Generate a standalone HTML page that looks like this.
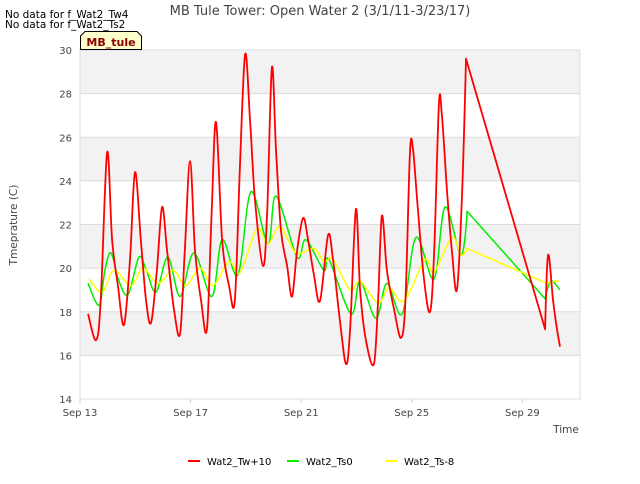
<!DOCTYPE html>
<html><head><meta charset="utf-8"><style>
body{margin:0;background:#fff;font-family:"DejaVu Sans",sans-serif}
</style></head><body>
<svg width="640" height="480" xmlns="http://www.w3.org/2000/svg" font-family="DejaVu Sans, Liberation Sans, sans-serif">
<rect width="640" height="480" fill="#fff"/>
<g id="bands"></g>
<g id="grid"></g>
<g id="axes"></g>
<g id="series"></g>
<text x="320" y="15" text-anchor="middle" font-size="13" fill="#444">MB Tule Tower: Open Water 2 (3/1/11-3/23/17)</text>
<text x="5" y="18" font-size="10.5" fill="#000">No data for f_Wat2_Tw4</text>
<text x="5" y="28" font-size="10.5" fill="#000">No data for f_Wat2_Ts2</text>
<g>
<path d="M80.5,49.5 L80.5,36 L85,31.5 L137,31.5 L141.5,36 L141.5,49.5 Z" fill="#ffffcc" stroke="#000"/>
<text x="111" y="46" text-anchor="middle" font-size="11" font-weight="bold" fill="#8b0000">MB_tule</text>
</g>
<text transform="translate(17,225) rotate(-90)" text-anchor="middle" font-size="10.5" fill="#444">Tmeprature (C)</text>
<text x="566" y="433" text-anchor="middle" font-size="10.5" fill="#444">Time</text>
<g id="legend"></g>
</svg>
<script>
const NS="http://www.w3.org/2000/svg";
const yTicks=[14,16,18,20,22,24,26,28,30];
const xTickDays=[0,4,8,12,16];
const xTickLabels=["Sep 13","Sep 17","Sep 21","Sep 25","Sep 29"];
const seriesNames=["Wat2_Tw+10","Wat2_Ts0","Wat2_Ts-8"];
const seriesColors=["#ff0000","#00ee00","#ffff00"];
const redDays=[0.29,0.58,0.75,0.98,1.16,1.37,1.59,1.81,1.99,2.2,2.39,2.57,2.78,2.97,3.15,3.4,3.62,3.79,3.98,4.16,4.38,4.59,4.76,4.92,5.14,5.39,5.6,5.78,5.97,6.15,6.33,6.62,6.77,6.94,7.09,7.27,7.49,7.67,7.85,8.07,8.25,8.46,8.68,8.97,9.15,9.4,9.62,9.77,9.98,10.13,10.34,10.63,10.78,10.92,11.1,11.36,11.61,11.77,11.93,12.04,12.22,12.44,12.66,12.81,12.98,13.09,13.27,13.45,13.63,13.81,13.96,16.82,16.93,17.11,17.25,17.36];
const redVals=[17.9,16.7,18.5,25.3,21.3,19.2,17.4,20.4,24.4,21.3,18.5,17.5,19.9,22.8,20.8,18.1,17.0,20.8,24.9,20.8,18.5,17.2,22.5,26.7,21.3,19.2,18.5,24.5,29.8,26.8,23.1,20.1,22.6,29.2,25.4,21.7,20.1,18.7,20.8,22.3,21.3,19.7,18.5,21.5,20.4,17.6,15.6,17.2,22.7,19.0,16.7,15.6,18.5,22.4,19.9,18.1,16.8,18.5,25.2,25.5,22.7,19.5,18.0,20.8,27.5,27.0,23.6,20.8,19.0,23.1,29.6,17.2,20.6,18.5,17.2,16.4];
const greenDays=[0.29,0.69,0.9,1.12,1.41,1.74,2.13,2.4,2.75,3.18,3.62,4.12,4.77,5.14,5.71,6.18,6.8,7.09,7.85,8.17,8.82,9.0,9.8,10.13,10.7,11.1,11.65,12.15,12.8,13.2,13.78,14.0,16.82,17.03,17.36];
const greenVals=[19.3,18.3,19.9,20.7,19.4,18.8,20.5,19.9,18.9,20.5,18.7,20.7,18.7,21.3,19.7,23.5,21.1,23.3,20.5,21.3,19.9,20.4,17.9,19.4,17.7,19.3,17.9,21.4,19.5,22.8,20.6,22.6,18.6,19.4,19.0];
const yellowDays=[0.33,0.8,1.23,1.84,2.28,2.82,3.36,3.83,4.34,4.81,5.39,5.79,6.4,6.8,7.23,7.81,8.46,8.82,9.15,9.77,10.13,10.78,11.18,11.72,12.48,12.8,13.45,13.78,14.0,16.89,17.18,17.36];
const yellowVals=[19.5,18.9,19.9,19.2,20.0,19.3,19.9,19.2,20.0,19.2,20.3,19.8,21.8,21.1,21.9,20.7,20.9,20.3,20.4,19.0,19.4,18.4,19.1,18.5,20.4,19.8,21.4,20.6,20.9,19.3,19.4,19.4];
const X0=80,X1=580,Y0=50,Y1=399;
const xS=d=>X0+d*27.65;
const yS=v=>Y0+(30-v)*(Y1-Y0)/16;
function mk(tag,attrs,parent){const e=document.createElementNS(NS,tag);for(const k in attrs)e.setAttribute(k,attrs[k]);document.getElementById(parent).appendChild(e);return e;}
for(let i=1;i<yTicks.length-1;i+=2){
 const r=mk("rect",{x:X0,y:yS(yTicks[i+1]),width:X1-X0,height:yS(yTicks[i])-yS(yTicks[i+1]),fill:"#f2f2f2"},"bands");
 
 
}
yTicks.forEach(v=>{
 const l=mk("line",{x1:X0,x2:X1,y1:yS(v),y2:yS(v),stroke:"#dcdcdc"},"grid");
 
 
 const t=mk("text",{x:X0-8,y:yS(v)+4,"text-anchor":"end","font-size":"10","fill":"#444"},"axes");
 t.textContent=v;
 
 
});
xTickDays.forEach((d,i)=>{
 const t=mk("text",{x:xS(d),y:416,"text-anchor":"middle","font-size":"10",fill:"#444"},"axes");
 t.textContent=xTickLabels[i];
 
 
 const tk=mk("line",{x1:xS(d),x2:xS(d),y1:Y1,y2:Y1+4,stroke:"#ccc"},"axes");
 
 
});
const fr=mk("rect",{x:X0,y:Y0,width:X1-X0,height:Y1-Y0,fill:"none",stroke:"#ddd"},"axes");


function smoothPath(P){
 let d="M"+P[0][0].toFixed(1)+","+P[0][1].toFixed(1);
 for(let i=0;i<P.length-1;i++){
  const p0=P[Math.max(0,i-1)],p1=P[i],p2=P[i+1],p3=P[Math.min(P.length-1,i+2)];
  if(p2[0]-p1[0]>40){d+=" L"+p2[0].toFixed(1)+","+p2[1].toFixed(1);continue;}
  const t=0.5/3;
  let c1=[p1[0]+(p2[0]-p0[0])*t,p1[1]+(p2[1]-p0[1])*t];
  let c2=[p2[0]-(p3[0]-p1[0])*t,p2[1]-(p3[1]-p1[1])*t];
  if(p1[0]-p0[0]>40)c1=[p1[0],p1[1]];
  if(p3[0]-p2[0]>40)c2=[p2[0],p2[1]];
  d+=" C"+c1[0].toFixed(1)+","+c1[1].toFixed(1)+" "+c2[0].toFixed(1)+","+c2[1].toFixed(1)+" "+p2[0].toFixed(1)+","+p2[1].toFixed(1);
 }
 return d;
}
const allDays=[redDays,greenDays,yellowDays],allVals=[redVals,greenVals,yellowVals];
[1,2,0].forEach(i=>{
 const P=allDays[i].map((d,j)=>[xS(d),yS(allVals[i][j])]);
 const p=mk("path",{d:smoothPath(P),fill:"none",stroke:seriesColors[i],"stroke-width":i==0?1.8:1.5,"stroke-linejoin":"round"},"series");
 
 
});
const lx=[188,287,385];
seriesNames.forEach((n,i)=>{
 const l=mk("line",{x1:lx[i],x2:lx[i]+12,y1:461,y2:461,stroke:seriesColors[i],"stroke-width":2},"legend");
 
 
 const t=mk("text",{x:lx[i]+19,y:465,"font-size":"10",fill:"#000"},"legend");
 t.textContent=n;
 
 
});
</script>
</body></html>
